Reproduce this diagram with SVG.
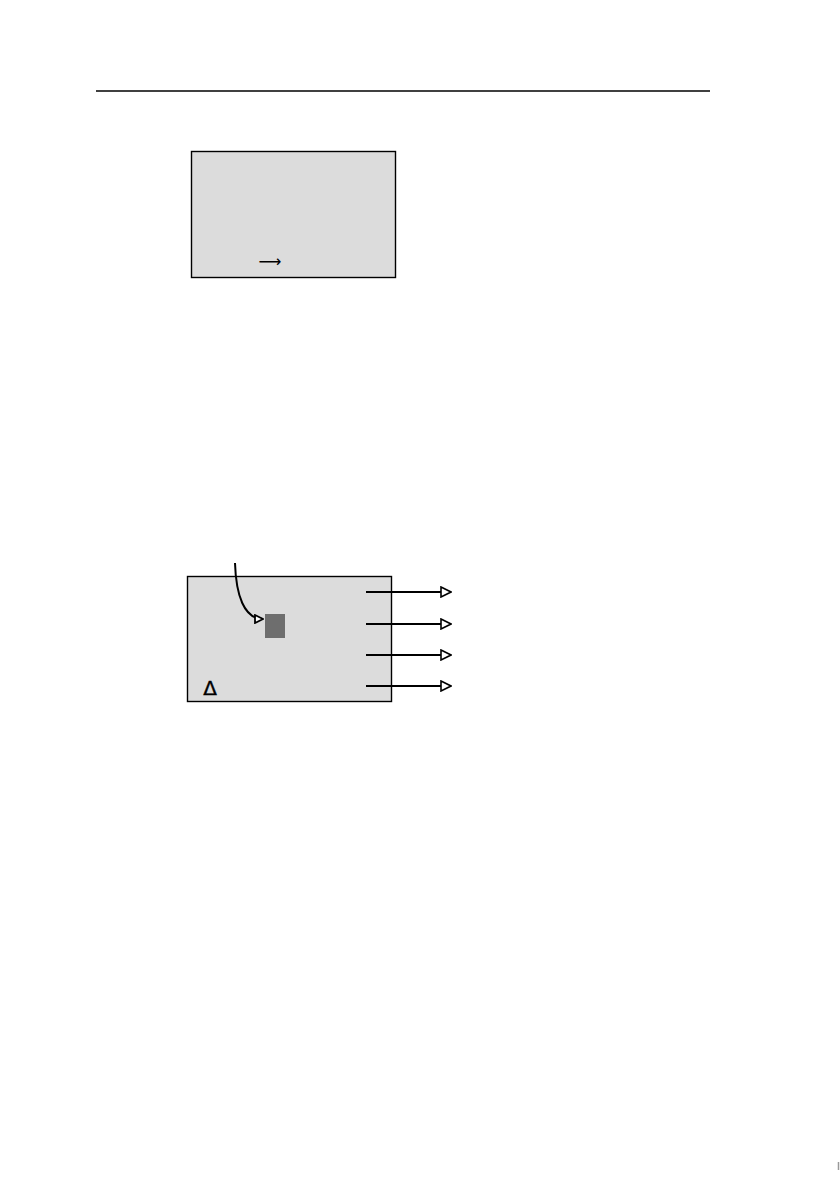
<svg xmlns="http://www.w3.org/2000/svg" width="840" height="1190" viewBox="0 0 840 1190">
<style>
.box{fill:#dcdcdc;stroke:#000;stroke-width:1.4}
.conn{fill:none;stroke:#000;stroke-width:2}
.txt{font-family:"DejaVu Sans",sans-serif;fill:#000}
</style>
<defs>
<marker id="open" viewBox="0 0 12 12" refX="11" refY="6" markerWidth="12" markerHeight="12" markerUnits="userSpaceOnUse" orient="auto">
<path d="M1,1 L11,6 L1,11 Z" fill="#fff" stroke="#000" stroke-width="1.6"/>
</marker>
<marker id="small" viewBox="0 0 10 10" refX="9" refY="5" markerWidth="10" markerHeight="10" markerUnits="userSpaceOnUse" orient="auto">
<path d="M1,1 L9,5 L1,9 Z" fill="#fff" stroke="#000" stroke-width="1.8"/>
</marker>
</defs>
<rect width="840" height="1190" fill="#fff"/>
<line x1="96" y1="91" x2="710" y2="91" stroke="#000" stroke-width="1.3"/>
<g id="box1">
<rect class="box" x="191.5" y="151.5" width="204" height="126"/>
<text class="txt" x="270" y="267" font-size="16" text-anchor="middle">⟶</text>
</g>
<g id="box2">
<rect class="box" x="187.5" y="576.5" width="204" height="125"/>
<rect x="265" y="614" width="20" height="24" fill="#6e6e6e"/>
<text class="txt" x="210" y="695" font-size="20" text-anchor="middle" stroke="#000" stroke-width="0.4">Δ</text>
</g>
<g id="connectors">
<path class="conn" d="M235,563 C236,595 244,619 263,619" marker-end="url(#small)"/>
<line class="conn" x1="366" y1="592" x2="451" y2="592" marker-end="url(#open)"/>
<line class="conn" x1="366" y1="624" x2="451" y2="624" marker-end="url(#open)"/>
<line class="conn" x1="366" y1="655" x2="451" y2="655" marker-end="url(#open)"/>
<line class="conn" x1="366" y1="686" x2="451" y2="686" marker-end="url(#open)"/>
</g>
<line x1="838.5" y1="1162" x2="838.5" y2="1170" stroke="#999" stroke-width="1.5"/>
</svg>
